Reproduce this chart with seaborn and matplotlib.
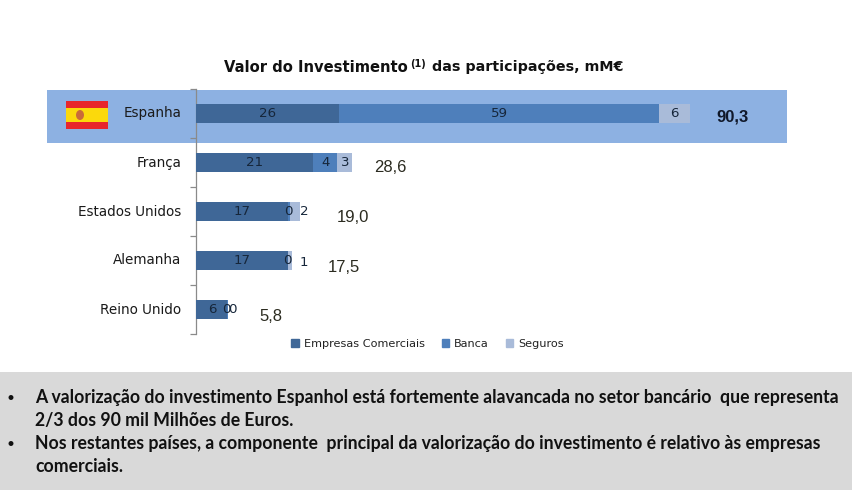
"""Valor do Investimento das participações, por país (barras empilhadas)."""

import pandas as pd
import matplotlib
matplotlib.use("Agg")
import matplotlib.pyplot as plt
from matplotlib.patches import Rectangle, Ellipse, Patch
from matplotlib.transforms import ScaledTranslation
import seaborn as sns

paises = ["Espanha", "França", "Estados Unidos", "Alemanha", "Reino Unido"]
empresas = [26.1, 21.4, 16.9, 16.8, 5.7]
banca = [58.6, 4.4, 0.2, 0.0, 0.1]
seguros = [5.6, 2.8, 1.9, 0.7, 0.0]
totais = ["90,3", "28,6", "19,0", "17,5", "5,8"]

W, H = 853, 490
C_EMP, C_BAN, C_SEG = "#3F6797", "#4E7FBB", "#A9BBD9"
C_FAIXA = "#8DB1E2"


def px_box(x0, y0, x1, y1, color, z=-1):
    # retângulo em píxeis da figura (origem no topo)
    return Rectangle((x0 / W, 1 - y1 / H), (x1 - x0) / W, (y1 - y0) / H,
                     transform=fig.transFigure, color=color, lw=0, zorder=z)


def ftext(x, y, s, **kw):
    fig.text(x / W, 1 - y / H, s, **kw)


sns.set_theme(style="white")
plt.rcParams["font.family"] = ["DejaVu Sans"]

fig = plt.figure(figsize=(W / 100, H / 100), dpi=100, facecolor="white")
ax = fig.add_axes([196 / W, 1 - 334 / H, 591 / W, 245 / H])
ax.patch.set_alpha(0)

# faixa de destaque, painel de texto e bandeira
fig.add_artist(px_box(47, 90, 787, 143, C_FAIXA))
fig.add_artist(px_box(0, 372, 853, 490, "#D9D9D9"))
fig.add_artist(px_box(66, 101, 108, 129, "#E8262B", z=-0.9))
fig.add_artist(px_box(66, 108, 108, 122, "#FBD90C", z=-0.8))
fig.add_artist(Ellipse((80 / W, 1 - 115 / H), 8 / W, 10 / H, transform=fig.transFigure,
                       color="#C96A3A", lw=0, zorder=-0.7))

df = pd.DataFrame({"pais": paises, "emp": empresas, "ban": banca, "seg": seguros})
df["c1"] = df["emp"]
df["c2"] = df["emp"] + df["ban"]
df["c3"] = df["c2"] + df["seg"]

# empilhado: acumulados sobrepostos, do maior para o menor
for col, cor in [("c3", C_SEG), ("c2", C_BAN), ("c1", C_EMP)]:
    sns.barplot(data=df, y="pais", x=col, color=cor, width=0.39, saturation=1,
                orient="h", ax=ax, zorder=3, linewidth=0, edgecolor="none")

ax.set_xlim(0, 591 / 5.47)
ax.set_ylim(4.5, -0.5)
ax.set_xlabel("")
ax.set_ylabel("")
ax.xaxis.set_visible(False)
for lado in ["top", "right", "bottom"]:
    ax.spines[lado].set_visible(False)
ax.spines["left"].set_color("#8A8A8A")
ax.spines["left"].set_linewidth(0.9)
ax.set_yticks([i - 0.5 for i in range(6)], minor=True)
ax.tick_params(axis="y", which="minor", length=4.5, width=0.9, color="#8A8A8A", left=True)
ax.tick_params(axis="y", which="major", length=0, pad=10.7, labelsize=9.75, labelcolor="#1A1A1A")
# sobe os nomes dos países cerca de 1.5 px
for lab in ax.get_yticklabels():
    lab.set_transform(lab.get_transform() + ScaledTranslation(0, 1.5 / 100, fig.dpi_scale_trans))

# rótulos dos segmentos: deslocamentos em píxeis a partir do centro do segmento
ajuste = [
    [(0, 0), (0, 0), (0, 0)],
    [(0, 0), (0, 0), (0, 0)],
    [(0, 0), (-1, 0), (9.5, 0)],
    [(0, 0), (-1, 0), (14, -2)],
    [(1, 0), (-1.5, 0), (4.5, 0)],
]
for i in range(len(paises)):
    ini = 0
    for k, serie in enumerate([empresas, banca, seguros]):
        v = serie[i]
        dx, dy = ajuste[i][k]
        ax.annotate(f"{v:.0f}", (ini + v / 2, i), xytext=(dx * 0.72, dy * 0.72),
                    textcoords="offset points", ha="center", va="center",
                    fontsize=9.6, color="#16263A", zorder=5)
        ini += v

# totais à direita das barras
desloc = [(43, -3), (38, -5), (53, -6), (52, -7), (43, -7)]
for i, t in enumerate(totais):
    dx, dy = desloc[i]
    ax.annotate(t, (df["c3"][i], i), xytext=(dx * 0.72, dy * 0.72), textcoords="offset points",
                ha="center", va="center", family="Liberation Sans", fontsize=12,
                fontweight="bold" if i == 0 else "normal", color="#10182A" if i == 0 else "#2B2B20")

# título com índice (1)
ftext(224, 71.5, "Valor do Investimento", fontsize=10.6, fontweight="bold", color="#111111", va="baseline")
ftext(410, 67, "(1)", fontsize=7, fontweight="bold", color="#111111", va="baseline")
ftext(432, 71.5, "das participações, mM€", fontsize=10.3, fontweight="bold", color="#111111", va="baseline")

# legenda
pegas = [Patch(color=C_EMP, label="Empresas Comerciais"), Patch(color=C_BAN, label="Banca"),
         Patch(color=C_SEG, label="Seguros")]
fig.legend(handles=pegas, ncol=3, loc="center", bbox_to_anchor=(427.5 / W, 1 - 344 / H), frameon=False,
           fontsize=8.1, handlelength=0.7, handleheight=0.7, handletextpad=0.4, columnspacing=1.5,
           labelcolor="#222222")

# texto do painel
corpo = dict(family="Lato", fontsize=12.7, fontweight="bold", color="#111111", va="baseline")
linhas = [
    (35, 403, "A valorização do investimento Espanhol está fortemente alavancada no setor bancário  que representa"),
    (35, 426, "2/3 dos 90 mil Milhões de Euros."),
    (35, 449, "Nos restantes países, a componente  principal da valorização do investimento é relativo às empresas"),
    (35, 472, "comerciais."),
]
for x, y, s in linhas:
    ftext(x, y, s, **corpo)
marca = dict(corpo, family="Liberation Sans", fontsize=12.7)
ftext(8, 403, "•", **marca)
ftext(8, 449, "•", **marca)

fig.savefig("out.png", dpi=100)
